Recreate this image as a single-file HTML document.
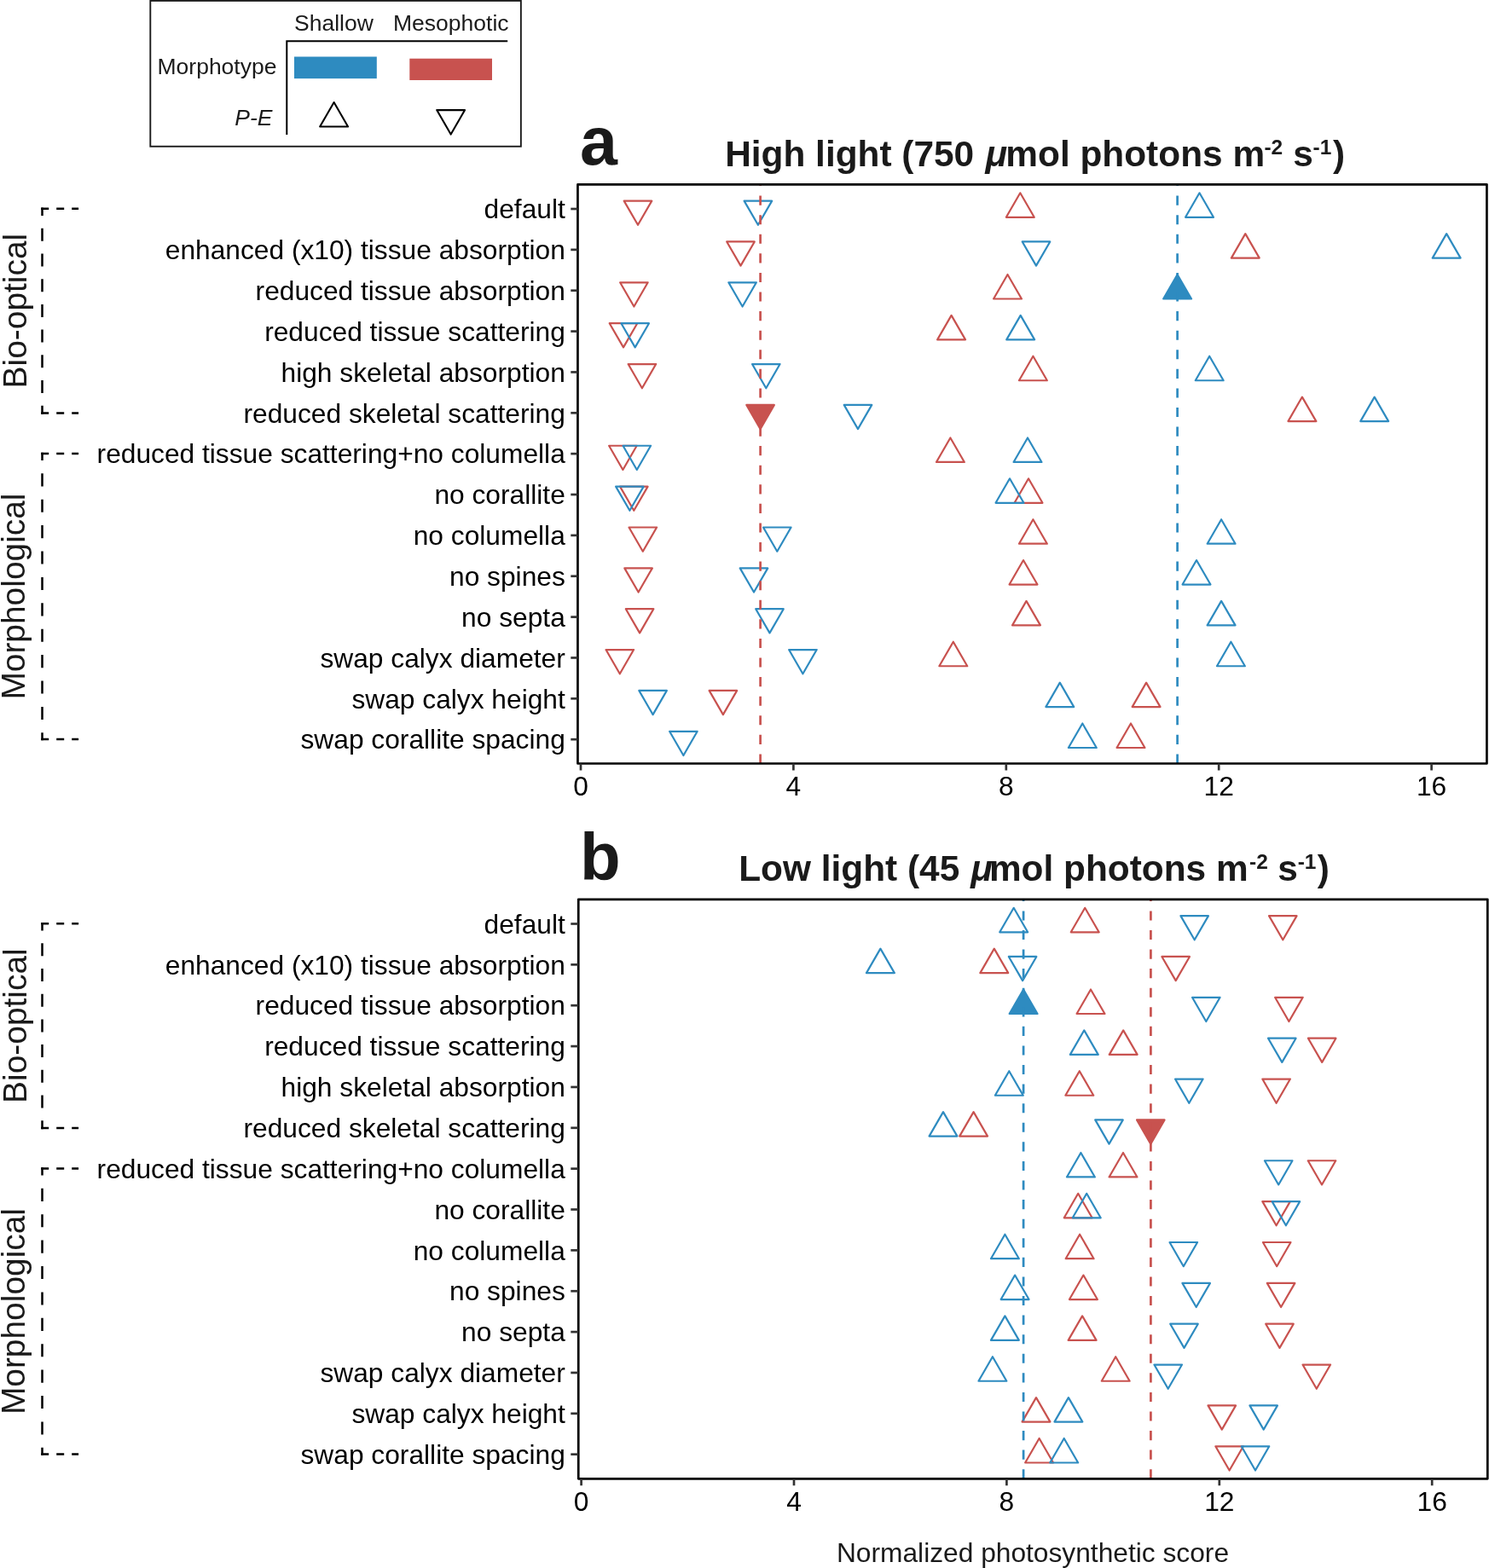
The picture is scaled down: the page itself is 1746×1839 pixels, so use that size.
<!DOCTYPE html>
<html><head><meta charset="utf-8"><title>Normalized photosynthetic score</title>
<style>
html,body{margin:0;padding:0;background:#fff;}
svg{display:block;}
text{font-family:"Liberation Sans",Arial,Helvetica,sans-serif;}
.ax{font-size:31.72px;fill:#000000;}
.grp{font-size:38.9px;fill:#1a1a1a;}
.leg{font-size:26.5px;fill:#1a1a1a;}
.ttl{font-size:42.4px;font-weight:bold;fill:#1a1a1a;}
.sup{font-size:24.5px;}
.lett{font-weight:bold;fill:#1a1a1a;}
</style></head>
<body>
<svg width="1746" height="1839" viewBox="0 0 1746 1839">
<rect width="1746" height="1839" fill="#fff"/>
<rect x="176.3" y="0.9" width="434.55" height="170.85" fill="none" stroke="#1a1a1a" stroke-width="1.9"/>
<polyline points="595.2,48.2 336.3,48.2 336.3,158.0" fill="none" stroke="#000" stroke-width="2"/>
<rect x="345" y="66.5" width="96.8" height="25.6" fill="#2E8BC0"/>
<rect x="480.3" y="68.7" width="96.7" height="25.3" fill="#C8524F"/>
<text x="345" y="35.8" class="leg">Shallow</text>
<text x="461" y="35.7" class="leg">Mesophotic</text>
<text x="184.5" y="86.9" class="leg">Morphotype</text>
<text x="319.5" y="147" text-anchor="end" class="leg" font-style="italic">P-E</text>
<polygon points="391.60,120.00 408.05,148.50 375.15,148.50" fill="none" stroke="#000" stroke-width="2.1" stroke-linejoin="round"/>
<polygon points="528.65,157.60 545.10,129.10 512.20,129.10" fill="none" stroke="#000" stroke-width="2.1" stroke-linejoin="round"/>
<text y="194.70" class="ttl"><tspan x="850.16">High light (750 </tspan><tspan x="1155.6" font-style="italic">&#956;</tspan><tspan x="1179.3">mol photons m</tspan><tspan x="1482.4" y="180.70" class="sup">-2</tspan><tspan x="1516.2" y="194.70">s</tspan><tspan x="1539.5" y="180.70" class="sup">-1</tspan><tspan x="1562.9" y="194.70">)</tspan></text>
<text x="680" y="193.40" class="lett" font-size="79px">a</text>
<polygon points="748.00,263.80 764.28,235.60 731.72,235.60" fill="none" stroke="#C8524F" stroke-width="2.2" stroke-linejoin="round"/>
<polygon points="1196.30,226.30 1212.75,254.80 1179.85,254.80" fill="none" stroke="#C8524F" stroke-width="2.2" stroke-linejoin="round"/>
<polygon points="888.90,263.80 905.18,235.60 872.62,235.60" fill="none" stroke="#2E8BC0" stroke-width="2.2" stroke-linejoin="round"/>
<polygon points="1406.50,226.30 1422.95,254.80 1390.05,254.80" fill="none" stroke="#2E8BC0" stroke-width="2.2" stroke-linejoin="round"/>
<polygon points="868.50,311.66 884.78,283.46 852.22,283.46" fill="none" stroke="#C8524F" stroke-width="2.2" stroke-linejoin="round"/>
<polygon points="1460.30,274.16 1476.75,302.66 1443.85,302.66" fill="none" stroke="#C8524F" stroke-width="2.2" stroke-linejoin="round"/>
<polygon points="1215.00,311.66 1231.28,283.46 1198.72,283.46" fill="none" stroke="#2E8BC0" stroke-width="2.2" stroke-linejoin="round"/>
<polygon points="1696.20,274.16 1712.65,302.66 1679.75,302.66" fill="none" stroke="#2E8BC0" stroke-width="2.2" stroke-linejoin="round"/>
<polygon points="743.40,359.52 759.68,331.32 727.12,331.32" fill="none" stroke="#C8524F" stroke-width="2.2" stroke-linejoin="round"/>
<polygon points="1181.50,322.02 1197.95,350.52 1165.05,350.52" fill="none" stroke="#C8524F" stroke-width="2.2" stroke-linejoin="round"/>
<polygon points="870.60,359.52 886.88,331.32 854.32,331.32" fill="none" stroke="#2E8BC0" stroke-width="2.2" stroke-linejoin="round"/>
<polygon points="1380.60,322.02 1397.05,350.52 1364.15,350.52" fill="#2E8BC0" stroke="#2E8BC0" stroke-width="2.2" stroke-linejoin="round"/>
<polygon points="731.00,407.38 747.28,379.18 714.72,379.18" fill="none" stroke="#C8524F" stroke-width="2.2" stroke-linejoin="round"/>
<polygon points="1115.60,369.88 1132.05,398.38 1099.15,398.38" fill="none" stroke="#C8524F" stroke-width="2.2" stroke-linejoin="round"/>
<polygon points="744.70,407.38 760.98,379.18 728.42,379.18" fill="none" stroke="#2E8BC0" stroke-width="2.2" stroke-linejoin="round"/>
<polygon points="1196.70,369.88 1213.15,398.38 1180.25,398.38" fill="none" stroke="#2E8BC0" stroke-width="2.2" stroke-linejoin="round"/>
<polygon points="752.90,455.24 769.18,427.04 736.62,427.04" fill="none" stroke="#C8524F" stroke-width="2.2" stroke-linejoin="round"/>
<polygon points="1211.40,417.74 1227.85,446.24 1194.95,446.24" fill="none" stroke="#C8524F" stroke-width="2.2" stroke-linejoin="round"/>
<polygon points="898.30,455.24 914.58,427.04 882.02,427.04" fill="none" stroke="#2E8BC0" stroke-width="2.2" stroke-linejoin="round"/>
<polygon points="1418.20,417.74 1434.65,446.24 1401.75,446.24" fill="none" stroke="#2E8BC0" stroke-width="2.2" stroke-linejoin="round"/>
<polygon points="891.60,503.10 907.88,474.90 875.32,474.90" fill="#C8524F" stroke="#C8524F" stroke-width="2.2" stroke-linejoin="round"/>
<polygon points="1526.90,465.60 1543.35,494.10 1510.45,494.10" fill="none" stroke="#C8524F" stroke-width="2.2" stroke-linejoin="round"/>
<polygon points="1006.00,503.10 1022.28,474.90 989.72,474.90" fill="none" stroke="#2E8BC0" stroke-width="2.2" stroke-linejoin="round"/>
<polygon points="1611.70,465.60 1628.15,494.10 1595.25,494.10" fill="none" stroke="#2E8BC0" stroke-width="2.2" stroke-linejoin="round"/>
<polygon points="730.40,550.96 746.68,522.76 714.12,522.76" fill="none" stroke="#C8524F" stroke-width="2.2" stroke-linejoin="round"/>
<polygon points="1114.40,513.46 1130.85,541.96 1097.95,541.96" fill="none" stroke="#C8524F" stroke-width="2.2" stroke-linejoin="round"/>
<polygon points="746.80,550.96 763.08,522.76 730.52,522.76" fill="none" stroke="#2E8BC0" stroke-width="2.2" stroke-linejoin="round"/>
<polygon points="1205.00,513.46 1221.45,541.96 1188.55,541.96" fill="none" stroke="#2E8BC0" stroke-width="2.2" stroke-linejoin="round"/>
<polygon points="743.30,598.82 759.58,570.62 727.02,570.62" fill="none" stroke="#C8524F" stroke-width="2.2" stroke-linejoin="round"/>
<polygon points="1206.00,561.32 1222.45,589.82 1189.55,589.82" fill="none" stroke="#C8524F" stroke-width="2.2" stroke-linejoin="round"/>
<polygon points="738.40,598.82 754.68,570.62 722.12,570.62" fill="none" stroke="#2E8BC0" stroke-width="2.2" stroke-linejoin="round"/>
<polygon points="1184.00,561.32 1200.45,589.82 1167.55,589.82" fill="none" stroke="#2E8BC0" stroke-width="2.2" stroke-linejoin="round"/>
<polygon points="753.80,646.68 770.08,618.48 737.52,618.48" fill="none" stroke="#C8524F" stroke-width="2.2" stroke-linejoin="round"/>
<polygon points="1211.40,609.18 1227.85,637.68 1194.95,637.68" fill="none" stroke="#C8524F" stroke-width="2.2" stroke-linejoin="round"/>
<polygon points="911.30,646.68 927.58,618.48 895.02,618.48" fill="none" stroke="#2E8BC0" stroke-width="2.2" stroke-linejoin="round"/>
<polygon points="1432.10,609.18 1448.55,637.68 1415.65,637.68" fill="none" stroke="#2E8BC0" stroke-width="2.2" stroke-linejoin="round"/>
<polygon points="748.60,694.54 764.88,666.34 732.32,666.34" fill="none" stroke="#C8524F" stroke-width="2.2" stroke-linejoin="round"/>
<polygon points="1200.00,657.04 1216.45,685.54 1183.55,685.54" fill="none" stroke="#C8524F" stroke-width="2.2" stroke-linejoin="round"/>
<polygon points="884.00,694.54 900.28,666.34 867.72,666.34" fill="none" stroke="#2E8BC0" stroke-width="2.2" stroke-linejoin="round"/>
<polygon points="1403.00,657.04 1419.45,685.54 1386.55,685.54" fill="none" stroke="#2E8BC0" stroke-width="2.2" stroke-linejoin="round"/>
<polygon points="750.10,742.40 766.38,714.20 733.82,714.20" fill="none" stroke="#C8524F" stroke-width="2.2" stroke-linejoin="round"/>
<polygon points="1203.50,704.90 1219.95,733.40 1187.05,733.40" fill="none" stroke="#C8524F" stroke-width="2.2" stroke-linejoin="round"/>
<polygon points="902.50,742.40 918.78,714.20 886.22,714.20" fill="none" stroke="#2E8BC0" stroke-width="2.2" stroke-linejoin="round"/>
<polygon points="1432.10,704.90 1448.55,733.40 1415.65,733.40" fill="none" stroke="#2E8BC0" stroke-width="2.2" stroke-linejoin="round"/>
<polygon points="726.80,790.26 743.08,762.06 710.52,762.06" fill="none" stroke="#C8524F" stroke-width="2.2" stroke-linejoin="round"/>
<polygon points="1117.80,752.76 1134.25,781.26 1101.35,781.26" fill="none" stroke="#C8524F" stroke-width="2.2" stroke-linejoin="round"/>
<polygon points="941.40,790.26 957.68,762.06 925.12,762.06" fill="none" stroke="#2E8BC0" stroke-width="2.2" stroke-linejoin="round"/>
<polygon points="1443.40,752.76 1459.85,781.26 1426.95,781.26" fill="none" stroke="#2E8BC0" stroke-width="2.2" stroke-linejoin="round"/>
<polygon points="847.90,838.12 864.18,809.92 831.62,809.92" fill="none" stroke="#C8524F" stroke-width="2.2" stroke-linejoin="round"/>
<polygon points="1344.10,800.62 1360.55,829.12 1327.65,829.12" fill="none" stroke="#C8524F" stroke-width="2.2" stroke-linejoin="round"/>
<polygon points="765.60,838.12 781.88,809.92 749.32,809.92" fill="none" stroke="#2E8BC0" stroke-width="2.2" stroke-linejoin="round"/>
<polygon points="1242.80,800.62 1259.25,829.12 1226.35,829.12" fill="none" stroke="#2E8BC0" stroke-width="2.2" stroke-linejoin="round"/>
<polygon points="1326.00,848.48 1342.45,876.98 1309.55,876.98" fill="none" stroke="#C8524F" stroke-width="2.2" stroke-linejoin="round"/>
<polygon points="801.40,885.98 817.68,857.78 785.12,857.78" fill="none" stroke="#2E8BC0" stroke-width="2.2" stroke-linejoin="round"/>
<polygon points="1269.30,848.48 1285.75,876.98 1252.85,876.98" fill="none" stroke="#2E8BC0" stroke-width="2.2" stroke-linejoin="round"/>
<line x1="891.6" y1="895.5" x2="891.6" y2="216.3" stroke="#C8524F" stroke-width="2.7" stroke-dasharray="11.1 11.48"/>
<line x1="1380.6" y1="895.5" x2="1380.6" y2="216.3" stroke="#2E8BC0" stroke-width="2.7" stroke-dasharray="11.1 11.48"/>
<rect x="677.45" y="216.3" width="1066.0" height="679.2" fill="none" stroke="#000" stroke-width="2.7" stroke-linejoin="round"/>
<line x1="669.3" y1="245.00" x2="677.45" y2="245.00" stroke="#333" stroke-width="2.7"/>
<text x="662.8" y="256.20" text-anchor="end" class="ax">default</text>
<line x1="669.3" y1="292.86" x2="677.45" y2="292.86" stroke="#333" stroke-width="2.7"/>
<text x="662.8" y="304.06" text-anchor="end" class="ax">enhanced (x10) tissue absorption</text>
<line x1="669.3" y1="340.72" x2="677.45" y2="340.72" stroke="#333" stroke-width="2.7"/>
<text x="662.8" y="351.92" text-anchor="end" class="ax">reduced tissue absorption</text>
<line x1="669.3" y1="388.58" x2="677.45" y2="388.58" stroke="#333" stroke-width="2.7"/>
<text x="662.8" y="399.78" text-anchor="end" class="ax">reduced tissue scattering</text>
<line x1="669.3" y1="436.44" x2="677.45" y2="436.44" stroke="#333" stroke-width="2.7"/>
<text x="662.8" y="447.64" text-anchor="end" class="ax">high skeletal absorption</text>
<line x1="669.3" y1="484.30" x2="677.45" y2="484.30" stroke="#333" stroke-width="2.7"/>
<text x="662.8" y="495.50" text-anchor="end" class="ax">reduced skeletal scattering</text>
<line x1="669.3" y1="532.16" x2="677.45" y2="532.16" stroke="#333" stroke-width="2.7"/>
<text x="662.8" y="543.36" text-anchor="end" class="ax">reduced tissue scattering+no columella</text>
<line x1="669.3" y1="580.02" x2="677.45" y2="580.02" stroke="#333" stroke-width="2.7"/>
<text x="662.8" y="591.22" text-anchor="end" class="ax">no corallite</text>
<line x1="669.3" y1="627.88" x2="677.45" y2="627.88" stroke="#333" stroke-width="2.7"/>
<text x="662.8" y="639.08" text-anchor="end" class="ax">no columella</text>
<line x1="669.3" y1="675.74" x2="677.45" y2="675.74" stroke="#333" stroke-width="2.7"/>
<text x="662.8" y="686.94" text-anchor="end" class="ax">no spines</text>
<line x1="669.3" y1="723.60" x2="677.45" y2="723.60" stroke="#333" stroke-width="2.7"/>
<text x="662.8" y="734.80" text-anchor="end" class="ax">no septa</text>
<line x1="669.3" y1="771.46" x2="677.45" y2="771.46" stroke="#333" stroke-width="2.7"/>
<text x="662.8" y="782.66" text-anchor="end" class="ax">swap calyx diameter</text>
<line x1="669.3" y1="819.32" x2="677.45" y2="819.32" stroke="#333" stroke-width="2.7"/>
<text x="662.8" y="830.52" text-anchor="end" class="ax">swap calyx height</text>
<line x1="669.3" y1="867.18" x2="677.45" y2="867.18" stroke="#333" stroke-width="2.7"/>
<text x="662.8" y="878.38" text-anchor="end" class="ax">swap corallite spacing</text>
<line x1="681.00" y1="895.5" x2="681.00" y2="903.5" stroke="#333" stroke-width="2.7"/>
<text x="681.00" y="933.00" text-anchor="middle" class="ax">0</text>
<line x1="930.40" y1="895.5" x2="930.40" y2="903.5" stroke="#333" stroke-width="2.7"/>
<text x="930.40" y="933.00" text-anchor="middle" class="ax">4</text>
<line x1="1179.80" y1="895.5" x2="1179.80" y2="903.5" stroke="#333" stroke-width="2.7"/>
<text x="1179.80" y="933.00" text-anchor="middle" class="ax">8</text>
<line x1="1429.20" y1="895.5" x2="1429.20" y2="903.5" stroke="#333" stroke-width="2.7"/>
<text x="1429.20" y="933.00" text-anchor="middle" class="ax">12</text>
<line x1="1678.60" y1="895.5" x2="1678.60" y2="903.5" stroke="#333" stroke-width="2.7"/>
<text x="1678.60" y="933.00" text-anchor="middle" class="ax">16</text>
<line x1="48.2" y1="244.80" x2="92.1" y2="244.80" stroke="#000" stroke-width="2.5" fill="none" stroke-dasharray="9 9"/>
<line x1="48.2" y1="484.40" x2="92.1" y2="484.40" stroke="#000" stroke-width="2.5" fill="none" stroke-dasharray="9 9"/>
<line x1="49.5" y1="243.55" x2="49.5" y2="485.65" stroke="#000" stroke-width="2.5" fill="none" stroke-dasharray="15 14.7" stroke-dashoffset="5.45"/>
<line x1="48.2" y1="532.10" x2="92.1" y2="532.10" stroke="#000" stroke-width="2.5" fill="none" stroke-dasharray="9 9"/>
<line x1="48.2" y1="867.00" x2="92.1" y2="867.00" stroke="#000" stroke-width="2.5" fill="none" stroke-dasharray="9 9"/>
<line x1="49.5" y1="530.85" x2="49.5" y2="868.25" stroke="#000" stroke-width="2.5" fill="none" stroke-dasharray="15.1 15.3" stroke-dashoffset="5.95"/>
<text transform="translate(31.1,364.60) rotate(-90)" text-anchor="middle" class="grp">Bio-optical</text>
<text transform="translate(28.9,699.55) rotate(-90)" text-anchor="middle" class="grp">Morphological</text>
<text y="1032.80" class="ttl"><tspan x="866.2">Low light (45 </tspan><tspan x="1138.2" font-style="italic">&#956;</tspan><tspan x="1159.9">mol photons m</tspan><tspan x="1465.0" y="1018.80" class="sup">-2</tspan><tspan x="1498.3" y="1032.80">s</tspan><tspan x="1521.7" y="1018.80" class="sup">-1</tspan><tspan x="1544.8" y="1032.80">)</tspan></text>
<text x="680" y="1032.00" class="lett" font-size="78px">b</text>
<polygon points="1504.30,1102.30 1520.58,1074.10 1488.02,1074.10" fill="none" stroke="#C8524F" stroke-width="2.2" stroke-linejoin="round"/>
<polygon points="1272.20,1064.80 1288.65,1093.30 1255.75,1093.30" fill="none" stroke="#C8524F" stroke-width="2.2" stroke-linejoin="round"/>
<polygon points="1400.70,1102.30 1416.98,1074.10 1384.42,1074.10" fill="none" stroke="#2E8BC0" stroke-width="2.2" stroke-linejoin="round"/>
<polygon points="1188.70,1064.80 1205.15,1093.30 1172.25,1093.30" fill="none" stroke="#2E8BC0" stroke-width="2.2" stroke-linejoin="round"/>
<polygon points="1378.70,1150.16 1394.98,1121.96 1362.42,1121.96" fill="none" stroke="#C8524F" stroke-width="2.2" stroke-linejoin="round"/>
<polygon points="1165.80,1112.66 1182.25,1141.16 1149.35,1141.16" fill="none" stroke="#C8524F" stroke-width="2.2" stroke-linejoin="round"/>
<polygon points="1199.10,1150.16 1215.38,1121.96 1182.82,1121.96" fill="none" stroke="#2E8BC0" stroke-width="2.2" stroke-linejoin="round"/>
<polygon points="1032.40,1112.66 1048.85,1141.16 1015.95,1141.16" fill="none" stroke="#2E8BC0" stroke-width="2.2" stroke-linejoin="round"/>
<polygon points="1511.40,1198.02 1527.68,1169.82 1495.12,1169.82" fill="none" stroke="#C8524F" stroke-width="2.2" stroke-linejoin="round"/>
<polygon points="1279.00,1160.52 1295.45,1189.02 1262.55,1189.02" fill="none" stroke="#C8524F" stroke-width="2.2" stroke-linejoin="round"/>
<polygon points="1414.30,1198.02 1430.58,1169.82 1398.02,1169.82" fill="none" stroke="#2E8BC0" stroke-width="2.2" stroke-linejoin="round"/>
<polygon points="1200.10,1160.52 1216.55,1189.02 1183.65,1189.02" fill="#2E8BC0" stroke="#2E8BC0" stroke-width="2.2" stroke-linejoin="round"/>
<polygon points="1550.20,1245.88 1566.48,1217.68 1533.92,1217.68" fill="none" stroke="#C8524F" stroke-width="2.2" stroke-linejoin="round"/>
<polygon points="1317.20,1208.38 1333.65,1236.88 1300.75,1236.88" fill="none" stroke="#C8524F" stroke-width="2.2" stroke-linejoin="round"/>
<polygon points="1503.30,1245.88 1519.58,1217.68 1487.02,1217.68" fill="none" stroke="#2E8BC0" stroke-width="2.2" stroke-linejoin="round"/>
<polygon points="1271.30,1208.38 1287.75,1236.88 1254.85,1236.88" fill="none" stroke="#2E8BC0" stroke-width="2.2" stroke-linejoin="round"/>
<polygon points="1496.60,1293.74 1512.88,1265.54 1480.32,1265.54" fill="none" stroke="#C8524F" stroke-width="2.2" stroke-linejoin="round"/>
<polygon points="1265.80,1256.24 1282.25,1284.74 1249.35,1284.74" fill="none" stroke="#C8524F" stroke-width="2.2" stroke-linejoin="round"/>
<polygon points="1394.30,1293.74 1410.58,1265.54 1378.02,1265.54" fill="none" stroke="#2E8BC0" stroke-width="2.2" stroke-linejoin="round"/>
<polygon points="1183.30,1256.24 1199.75,1284.74 1166.85,1284.74" fill="none" stroke="#2E8BC0" stroke-width="2.2" stroke-linejoin="round"/>
<polygon points="1349.30,1341.60 1365.58,1313.40 1333.02,1313.40" fill="#C8524F" stroke="#C8524F" stroke-width="2.2" stroke-linejoin="round"/>
<polygon points="1141.60,1304.10 1158.05,1332.60 1125.15,1332.60" fill="none" stroke="#C8524F" stroke-width="2.2" stroke-linejoin="round"/>
<polygon points="1300.50,1341.60 1316.78,1313.40 1284.22,1313.40" fill="none" stroke="#2E8BC0" stroke-width="2.2" stroke-linejoin="round"/>
<polygon points="1106.00,1304.10 1122.45,1332.60 1089.55,1332.60" fill="none" stroke="#2E8BC0" stroke-width="2.2" stroke-linejoin="round"/>
<polygon points="1550.00,1389.46 1566.28,1361.26 1533.72,1361.26" fill="none" stroke="#C8524F" stroke-width="2.2" stroke-linejoin="round"/>
<polygon points="1317.00,1351.96 1333.45,1380.46 1300.55,1380.46" fill="none" stroke="#C8524F" stroke-width="2.2" stroke-linejoin="round"/>
<polygon points="1499.20,1389.46 1515.48,1361.26 1482.92,1361.26" fill="none" stroke="#2E8BC0" stroke-width="2.2" stroke-linejoin="round"/>
<polygon points="1267.40,1351.96 1283.85,1380.46 1250.95,1380.46" fill="none" stroke="#2E8BC0" stroke-width="2.2" stroke-linejoin="round"/>
<polygon points="1496.60,1437.32 1512.88,1409.12 1480.32,1409.12" fill="none" stroke="#C8524F" stroke-width="2.2" stroke-linejoin="round"/>
<polygon points="1264.20,1399.82 1280.65,1428.32 1247.75,1428.32" fill="none" stroke="#C8524F" stroke-width="2.2" stroke-linejoin="round"/>
<polygon points="1507.90,1437.32 1524.18,1409.12 1491.62,1409.12" fill="none" stroke="#2E8BC0" stroke-width="2.2" stroke-linejoin="round"/>
<polygon points="1274.20,1399.82 1290.65,1428.32 1257.75,1428.32" fill="none" stroke="#2E8BC0" stroke-width="2.2" stroke-linejoin="round"/>
<polygon points="1497.20,1485.18 1513.48,1456.98 1480.92,1456.98" fill="none" stroke="#C8524F" stroke-width="2.2" stroke-linejoin="round"/>
<polygon points="1266.10,1447.68 1282.55,1476.18 1249.65,1476.18" fill="none" stroke="#C8524F" stroke-width="2.2" stroke-linejoin="round"/>
<polygon points="1387.80,1485.18 1404.08,1456.98 1371.52,1456.98" fill="none" stroke="#2E8BC0" stroke-width="2.2" stroke-linejoin="round"/>
<polygon points="1178.40,1447.68 1194.85,1476.18 1161.95,1476.18" fill="none" stroke="#2E8BC0" stroke-width="2.2" stroke-linejoin="round"/>
<polygon points="1502.10,1533.04 1518.38,1504.84 1485.82,1504.84" fill="none" stroke="#C8524F" stroke-width="2.2" stroke-linejoin="round"/>
<polygon points="1270.40,1495.54 1286.85,1524.04 1253.95,1524.04" fill="none" stroke="#C8524F" stroke-width="2.2" stroke-linejoin="round"/>
<polygon points="1402.70,1533.04 1418.98,1504.84 1386.42,1504.84" fill="none" stroke="#2E8BC0" stroke-width="2.2" stroke-linejoin="round"/>
<polygon points="1190.10,1495.54 1206.55,1524.04 1173.65,1524.04" fill="none" stroke="#2E8BC0" stroke-width="2.2" stroke-linejoin="round"/>
<polygon points="1500.50,1580.90 1516.78,1552.70 1484.22,1552.70" fill="none" stroke="#C8524F" stroke-width="2.2" stroke-linejoin="round"/>
<polygon points="1269.10,1543.40 1285.55,1571.90 1252.65,1571.90" fill="none" stroke="#C8524F" stroke-width="2.2" stroke-linejoin="round"/>
<polygon points="1388.50,1580.90 1404.78,1552.70 1372.22,1552.70" fill="none" stroke="#2E8BC0" stroke-width="2.2" stroke-linejoin="round"/>
<polygon points="1178.40,1543.40 1194.85,1571.90 1161.95,1571.90" fill="none" stroke="#2E8BC0" stroke-width="2.2" stroke-linejoin="round"/>
<polygon points="1543.80,1628.76 1560.08,1600.56 1527.52,1600.56" fill="none" stroke="#C8524F" stroke-width="2.2" stroke-linejoin="round"/>
<polygon points="1308.20,1591.26 1324.65,1619.76 1291.75,1619.76" fill="none" stroke="#C8524F" stroke-width="2.2" stroke-linejoin="round"/>
<polygon points="1369.70,1628.76 1385.98,1600.56 1353.42,1600.56" fill="none" stroke="#2E8BC0" stroke-width="2.2" stroke-linejoin="round"/>
<polygon points="1163.90,1591.26 1180.35,1619.76 1147.45,1619.76" fill="none" stroke="#2E8BC0" stroke-width="2.2" stroke-linejoin="round"/>
<polygon points="1432.80,1676.62 1449.08,1648.42 1416.52,1648.42" fill="none" stroke="#C8524F" stroke-width="2.2" stroke-linejoin="round"/>
<polygon points="1215.00,1639.12 1231.45,1667.62 1198.55,1667.62" fill="none" stroke="#C8524F" stroke-width="2.2" stroke-linejoin="round"/>
<polygon points="1481.70,1676.62 1497.98,1648.42 1465.42,1648.42" fill="none" stroke="#2E8BC0" stroke-width="2.2" stroke-linejoin="round"/>
<polygon points="1252.90,1639.12 1269.35,1667.62 1236.45,1667.62" fill="none" stroke="#2E8BC0" stroke-width="2.2" stroke-linejoin="round"/>
<polygon points="1441.60,1724.48 1457.88,1696.28 1425.32,1696.28" fill="none" stroke="#C8524F" stroke-width="2.2" stroke-linejoin="round"/>
<polygon points="1218.60,1686.98 1235.05,1715.48 1202.15,1715.48" fill="none" stroke="#C8524F" stroke-width="2.2" stroke-linejoin="round"/>
<polygon points="1472.00,1724.48 1488.28,1696.28 1455.72,1696.28" fill="none" stroke="#2E8BC0" stroke-width="2.2" stroke-linejoin="round"/>
<polygon points="1247.70,1686.98 1264.15,1715.48 1231.25,1715.48" fill="none" stroke="#2E8BC0" stroke-width="2.2" stroke-linejoin="round"/>
<line x1="1349.4" y1="1734.3" x2="1349.4" y2="1054.8" stroke="#C8524F" stroke-width="2.7" stroke-dasharray="11.1 11.48"/>
<line x1="1200.1" y1="1734.3" x2="1200.1" y2="1054.8" stroke="#2E8BC0" stroke-width="2.7" stroke-dasharray="11.1 11.48"/>
<rect x="678.25" y="1054.8" width="1066.05" height="679.5" fill="none" stroke="#000" stroke-width="2.7" stroke-linejoin="round"/>
<line x1="669.3" y1="1083.50" x2="678.25" y2="1083.50" stroke="#333" stroke-width="2.7"/>
<text x="662.8" y="1094.70" text-anchor="end" class="ax">default</text>
<line x1="669.3" y1="1131.36" x2="678.25" y2="1131.36" stroke="#333" stroke-width="2.7"/>
<text x="662.8" y="1142.56" text-anchor="end" class="ax">enhanced (x10) tissue absorption</text>
<line x1="669.3" y1="1179.22" x2="678.25" y2="1179.22" stroke="#333" stroke-width="2.7"/>
<text x="662.8" y="1190.42" text-anchor="end" class="ax">reduced tissue absorption</text>
<line x1="669.3" y1="1227.08" x2="678.25" y2="1227.08" stroke="#333" stroke-width="2.7"/>
<text x="662.8" y="1238.28" text-anchor="end" class="ax">reduced tissue scattering</text>
<line x1="669.3" y1="1274.94" x2="678.25" y2="1274.94" stroke="#333" stroke-width="2.7"/>
<text x="662.8" y="1286.14" text-anchor="end" class="ax">high skeletal absorption</text>
<line x1="669.3" y1="1322.80" x2="678.25" y2="1322.80" stroke="#333" stroke-width="2.7"/>
<text x="662.8" y="1334.00" text-anchor="end" class="ax">reduced skeletal scattering</text>
<line x1="669.3" y1="1370.66" x2="678.25" y2="1370.66" stroke="#333" stroke-width="2.7"/>
<text x="662.8" y="1381.86" text-anchor="end" class="ax">reduced tissue scattering+no columella</text>
<line x1="669.3" y1="1418.52" x2="678.25" y2="1418.52" stroke="#333" stroke-width="2.7"/>
<text x="662.8" y="1429.72" text-anchor="end" class="ax">no corallite</text>
<line x1="669.3" y1="1466.38" x2="678.25" y2="1466.38" stroke="#333" stroke-width="2.7"/>
<text x="662.8" y="1477.58" text-anchor="end" class="ax">no columella</text>
<line x1="669.3" y1="1514.24" x2="678.25" y2="1514.24" stroke="#333" stroke-width="2.7"/>
<text x="662.8" y="1525.44" text-anchor="end" class="ax">no spines</text>
<line x1="669.3" y1="1562.10" x2="678.25" y2="1562.10" stroke="#333" stroke-width="2.7"/>
<text x="662.8" y="1573.30" text-anchor="end" class="ax">no septa</text>
<line x1="669.3" y1="1609.96" x2="678.25" y2="1609.96" stroke="#333" stroke-width="2.7"/>
<text x="662.8" y="1621.16" text-anchor="end" class="ax">swap calyx diameter</text>
<line x1="669.3" y1="1657.82" x2="678.25" y2="1657.82" stroke="#333" stroke-width="2.7"/>
<text x="662.8" y="1669.02" text-anchor="end" class="ax">swap calyx height</text>
<line x1="669.3" y1="1705.68" x2="678.25" y2="1705.68" stroke="#333" stroke-width="2.7"/>
<text x="662.8" y="1716.88" text-anchor="end" class="ax">swap corallite spacing</text>
<line x1="681.60" y1="1734.3" x2="681.60" y2="1742.3" stroke="#333" stroke-width="2.7"/>
<text x="681.60" y="1771.50" text-anchor="middle" class="ax">0</text>
<line x1="931.00" y1="1734.3" x2="931.00" y2="1742.3" stroke="#333" stroke-width="2.7"/>
<text x="931.00" y="1771.50" text-anchor="middle" class="ax">4</text>
<line x1="1180.40" y1="1734.3" x2="1180.40" y2="1742.3" stroke="#333" stroke-width="2.7"/>
<text x="1180.40" y="1771.50" text-anchor="middle" class="ax">8</text>
<line x1="1429.80" y1="1734.3" x2="1429.80" y2="1742.3" stroke="#333" stroke-width="2.7"/>
<text x="1429.80" y="1771.50" text-anchor="middle" class="ax">12</text>
<line x1="1679.20" y1="1734.3" x2="1679.20" y2="1742.3" stroke="#333" stroke-width="2.7"/>
<text x="1679.20" y="1771.50" text-anchor="middle" class="ax">16</text>
<line x1="48.2" y1="1083.30" x2="92.1" y2="1083.30" stroke="#000" stroke-width="2.5" fill="none" stroke-dasharray="9 9"/>
<line x1="48.2" y1="1322.90" x2="92.1" y2="1322.90" stroke="#000" stroke-width="2.5" fill="none" stroke-dasharray="9 9"/>
<line x1="49.5" y1="1082.05" x2="49.5" y2="1324.15" stroke="#000" stroke-width="2.5" fill="none" stroke-dasharray="15 14.7" stroke-dashoffset="5.45"/>
<line x1="48.2" y1="1370.60" x2="92.1" y2="1370.60" stroke="#000" stroke-width="2.5" fill="none" stroke-dasharray="9 9"/>
<line x1="48.2" y1="1705.50" x2="92.1" y2="1705.50" stroke="#000" stroke-width="2.5" fill="none" stroke-dasharray="9 9"/>
<line x1="49.5" y1="1369.35" x2="49.5" y2="1706.75" stroke="#000" stroke-width="2.5" fill="none" stroke-dasharray="15.1 15.3" stroke-dashoffset="5.95"/>
<text transform="translate(31.1,1203.10) rotate(-90)" text-anchor="middle" class="grp">Bio-optical</text>
<text transform="translate(28.9,1538.05) rotate(-90)" text-anchor="middle" class="grp">Morphological</text>
<text x="1211" y="1831.5" text-anchor="middle" class="ax" fill="#1a1a1a" style="fill:#1a1a1a">Normalized photosynthetic score</text>
</svg>
</body></html>
